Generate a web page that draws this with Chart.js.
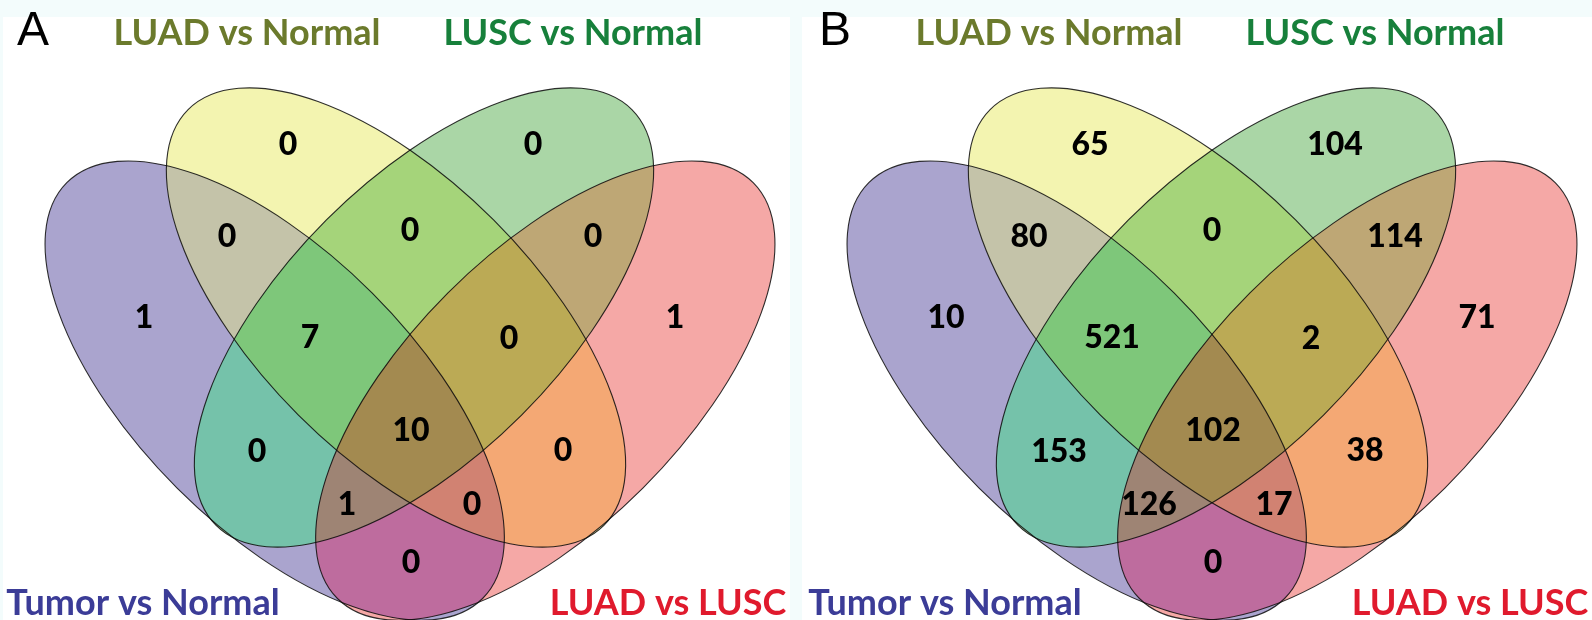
<!DOCTYPE html>
<html>
<head>
<meta charset="utf-8">
<script src="https://cdn.jsdelivr.net/npm/chart.js@4.4.0/dist/chart.umd.min.js"></script>
<style>
  html, body { margin: 0; padding: 0; background: #f3fcfc; }
  #wrap { width: 1592px; height: 620px; }
</style>
</head>
<body>
<div id="wrap"><canvas id="venn" width="1592" height="620"></canvas></div>
<script>
// the four comparisons, in the order the ellipses are laid out
const setNames = ['Tumor vs Normal', 'LUAD vs Normal', 'LUSC vs Normal', 'LUAD vs LUSC'];

// every region of the diagram, as the list of sets it belongs to
const regionSets = [
    [0], [1], [2], [3],
    [0, 1], [1, 2], [2, 3], [0, 2], [1, 3], [0, 3],
    [0, 1, 2], [1, 2, 3], [0, 2, 3], [0, 1, 3],
    [0, 1, 2, 3]
];

// gene counts per region, panel A and panel B
const countsA = [1, 0, 0, 1, 0, 0, 0, 0, 0, 0, 7, 0, 1, 0, 10];
const countsB = [10, 65, 104, 71, 80, 0, 114, 153, 38, 0, 521, 2, 126, 17, 102];

const panelLetters = ['A', 'B'];

// ---- layout (panel coordinates, panel A at offset 0) ----
const PANEL_OFFSET = [0, 802];
const ELLIPSES = [
    { cx: 274.7, cy: 390.6, rot: 45 },
    { cx: 396, cy: 317.5, rot: 45 },
    { cx: 424, cy: 317.5, rot: -45 },
    { cx: 545.3, cy: 390.6, rot: -45 }
];
const SEMI_MAJOR = 294;
const SEMI_MINOR = 138;

const REGION_LABEL_POS = [
    [144, 318], [288, 145], [533, 145], [675, 318],
    [227, 237], [410, 231], [593, 237], [257, 452], [563, 451], [411, 563],
    [310, 338], [509, 339], [347, 505], [472, 505],
    [411, 431]
];
const SET_LABEL_POS = [[143, 615], [247, 45], [573, 45], [668, 615]];

const regionColors = [
    '#aaa4ce', '#f3f4b0', '#aad6a6', '#f5a8a6',
    '#c4c3a9', '#a5d47a', '#bea775', '#75c2aa', '#f4a874', '#be6c9e',
    '#7ec77a', '#bbaa55', '#9e8474', '#d18272',
    '#a38a50'
];
const setTextColors = ['#3b3c97', '#6b7a2c', '#17803b', '#e01a2d'];

function ellipsePath(ctx, xs, ys, e, off) {
    const px = xs.getPixelForValue(e.cx + off);
    const py = ys.getPixelForValue(e.cy);
    const rx = Math.abs(xs.getPixelForValue(e.cx + off + SEMI_MAJOR) - px);
    const ry = Math.abs(ys.getPixelForValue(e.cy + SEMI_MINOR) - py);
    ctx.beginPath();
    ctx.ellipse(px, py, rx, ry, e.rot * Math.PI / 180, 0, Math.PI * 2);
}

const vennPlugin = {
    id: 'venn',
    beforeDatasetsDraw(chart) {
        const ctx = chart.ctx;
        const xs = chart.scales.x, ys = chart.scales.y;

        // white panels on the light background
        ctx.save();
        ctx.fillStyle = '#ffffff';
        const panels = [[3, 790], [802, 1592]];
        panels.forEach(p => {
            const x0 = xs.getPixelForValue(p[0]), x1 = xs.getPixelForValue(p[1]);
            const y0 = ys.getPixelForValue(17), y1 = ys.getPixelForValue(620);
            ctx.fillRect(x0, y0, x1 - x0, y1 - y0);
        });
        ctx.restore();

        PANEL_OFFSET.forEach(off => {
            // fill regions, smaller intersections first, bigger ones paint over
            for (let k = 1; k <= 4; k++) {
                regionSets.forEach((sets, i) => {
                    if (sets.length !== k) return;
                    ctx.save();
                    sets.forEach(s => {
                        ellipsePath(ctx, xs, ys, ELLIPSES[s], off);
                        ctx.clip();
                    });
                    ctx.fillStyle = regionColors[i];
                    ctx.fillRect(0, 0, chart.width, chart.height);
                    ctx.restore();
                });
            }
            // outlines
            ctx.save();
            ctx.strokeStyle = 'rgba(10,10,10,0.85)';
            ctx.lineWidth = 1.1;
            ELLIPSES.forEach(e => {
                ellipsePath(ctx, xs, ys, e, off);
                ctx.stroke();
            });
            ctx.restore();
        });
    },
    afterDatasetsDraw(chart) {
        const ctx = chart.ctx;
        const xs = chart.scales.x, ys = chart.scales.y;
        ctx.save();
        ctx.textAlign = 'center';
        ctx.textBaseline = 'middle';
        ctx.fillStyle = '#000000';
        ctx.font = '900 32px Lato';
        chart.data.datasets.forEach((ds, di) => {
            const meta = chart.getDatasetMeta(di);
            meta.data.forEach((pt, i) => {
                ctx.fillText(String(ds.data[i].count), pt.x, pt.y);
            });
        });

        // set names
        ctx.textBaseline = 'alphabetic';
        ctx.font = 'bold 36px Lato';
        PANEL_OFFSET.forEach(off => {
            setNames.forEach((name, s) => {
                ctx.fillStyle = setTextColors[s];
                ctx.fillText(name, xs.getPixelForValue(SET_LABEL_POS[s][0] + off), ys.getPixelForValue(SET_LABEL_POS[s][1]));
            });
        });

        // panel letters
        ctx.fillStyle = '#000000';
        ctx.textAlign = 'left';
        ctx.font = '48px "Liberation Sans"';
        panelLetters.forEach((l, p) => {
            ctx.fillText(l, xs.getPixelForValue(17 + PANEL_OFFSET[p]), ys.getPixelForValue(45));
        });
        ctx.restore();
    }
};

function makeDataset(counts, off) {
    return {
        data: counts.map((c, i) => ({ x: REGION_LABEL_POS[i][0] + off, y: REGION_LABEL_POS[i][1], count: c })),
        pointRadius: 0,
        pointHoverRadius: 0,
        showLine: false
    };
}

new Chart(document.getElementById('venn'), {
    type: 'scatter',
    data: {
        datasets: [makeDataset(countsA, PANEL_OFFSET[0]), makeDataset(countsB, PANEL_OFFSET[1])]
    },
    options: {
        responsive: false,
        animation: false,
        devicePixelRatio: 1,
        layout: { padding: 0 },
        plugins: { legend: { display: false }, tooltip: { enabled: false } },
        scales: {
            x: { type: 'linear', min: 0, max: 1592, display: false },
            y: { type: 'linear', min: 0, max: 620, reverse: true, display: false }
        }
    },
    plugins: [vennPlugin]
});
</script>
</body>
</html>
